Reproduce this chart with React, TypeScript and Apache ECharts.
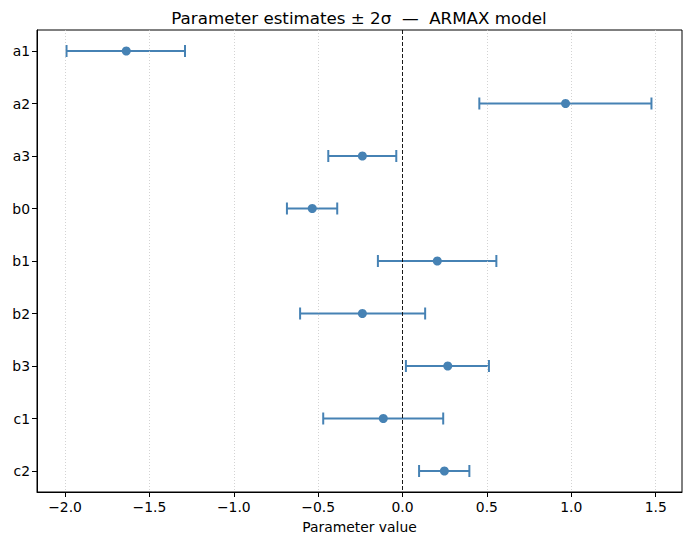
import React, { useEffect, useRef } from "react";
import * as echarts from "echarts";

const params = ["a1", "a2", "a3", "b0", "b1", "b2", "b3", "c1", "c2"];
const estimates = [-1.637, 0.966, -0.238, -0.535, 0.206, -0.238, 0.268, -0.114, 0.248];
const lowers = [-1.991, 0.455, -0.440, -0.685, -0.146, -0.607, 0.020, -0.470, 0.098];
const uppers = [-1.289, 1.475, -0.037, -0.387, 0.556, 0.134, 0.512, 0.241, 0.396];
const xTicks = [-2.0, -1.5, -1.0, -0.5, 0.0, 0.5, 1.0, 1.5];

const FONT = "DejaVu Sans";
const BLUE = "#4682b4";

export default function App() {
  const ref = useRef<HTMLDivElement>(null);
  useEffect(() => {
    document.body.style.margin = "0";
    const chart = echarts.init(ref.current!, null, { renderer: "svg" });
    const idx = params.map((_, i) => i);
    const fmtX = (v: number) => v.toFixed(1).replace("-", "\u2212");
    chart.setOption({
      animation: false,
      backgroundColor: "#ffffff",
      textStyle: { fontFamily: FONT },
      title: {
        text: "Parameter estimates \u00b1 2\u03c3  \u2014  ARMAX model",
        left: 354,
        top: 4,
        textAlign: "center",
        textStyle: { fontFamily: FONT, fontSize: 16.7, fontWeight: "normal", color: "#000" },
      },
      grid: {
        left: 37,
        right: 8,
        top: 30,
        bottom: 53,
        show: true,
        borderColor: "#000",
        borderWidth: 1,
        backgroundColor: "transparent",
      },
      xAxis: {
        type: "value",
        min: -2.166,
        max: 1.656,
        name: "Parameter value",
        nameLocation: "middle",
        nameGap: 28,
        nameTextStyle: { fontFamily: FONT, fontSize: 13.9, color: "#000" },
        axisLine: { show: true, onZero: false, lineStyle: { color: "#000", width: 1 } },
        axisTick: { show: true, customValues: xTicks, length: 5, lineStyle: { color: "#000" } },
        axisLabel: {
          customValues: xTicks,
          formatter: fmtX,
          fontFamily: FONT,
          fontSize: 13.9,
          color: "#000",
          margin: 8,
        },
        splitLine: { show: false },
      },
      yAxis: {
        type: "value",
        inverse: true,
        min: -0.4,
        max: 8.4,
        axisLine: { show: true, onZero: false, lineStyle: { color: "#000", width: 1 } },
        axisTick: { show: true, customValues: idx, length: 5, lineStyle: { color: "#000" } },
        axisLabel: {
          customValues: idx,
          formatter: (v: number) => params[Math.round(v)] ?? "",
          fontFamily: FONT,
          fontSize: 13.9,
          color: "#000",
          margin: 7,
        },
        splitLine: { show: false },
      },
      series: [
        {
          type: "line",
          data: [],
          silent: true,
          markLine: {
            silent: true,
            symbol: "none",
            label: { show: false },
            lineStyle: { color: "#c8c8c8", type: [1, 2], width: 0.8 },
            data: xTicks.filter((t) => t !== 0).map((t) => ({ xAxis: t })),
          },
          z: 1,
        },
        {
          type: "custom",
          z: 3,
          data: params.map((_, i) => [i, lowers[i], uppers[i]]),
          renderItem: (p: any, api: any) => {
            const i = api.value(0);
            const a = api.coord([api.value(1), i]);
            const b = api.coord([api.value(2), i]);
            const cap = 6;
            const style = { stroke: BLUE, lineWidth: 2 };
            return {
              type: "group",
              children: [
                { type: "line", shape: { x1: a[0], y1: a[1], x2: b[0], y2: b[1] }, style },
                { type: "line", shape: { x1: a[0], y1: a[1] - cap, x2: a[0], y2: a[1] + cap }, style },
                { type: "line", shape: { x1: b[0], y1: b[1] - cap, x2: b[0], y2: b[1] + cap }, style },
              ],
            };
          },
        },
        {
          type: "scatter",
          z: 4,
          symbol: "circle",
          symbolSize: 9,
          itemStyle: { color: BLUE, opacity: 1 },
          data: params.map((_, i) => [estimates[i], i]),
        },
        {
          type: "line",
          data: [],
          z: 5,
          markLine: {
            silent: true,
            symbol: "none",
            label: { show: false },
            lineStyle: { color: "#000", type: [4, 2], width: 0.9 },
            data: [{ xAxis: 0 }],
          },
        },
      ],
    });
    return () => chart.dispose();
  }, []);
  return <div ref={ref} style={{ width: 690, height: 545 }} />;
}
